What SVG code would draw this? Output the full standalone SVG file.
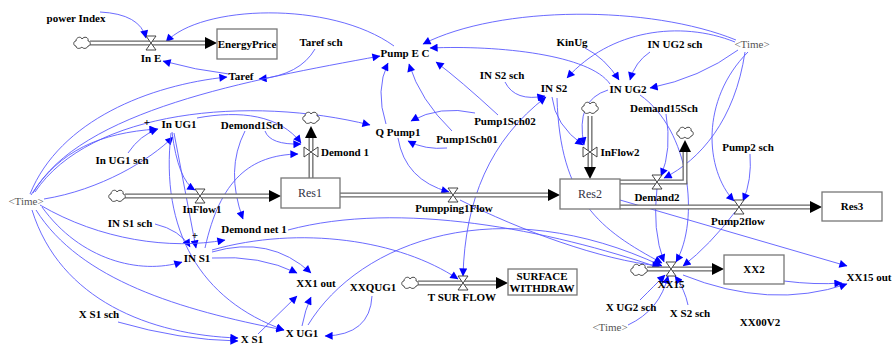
<svg xmlns="http://www.w3.org/2000/svg" width="893" height="345" viewBox="0 0 893 345">
<defs>
<style>
text{font-family:"Liberation Serif","Times New Roman",serif;font-size:11px;font-weight:bold;fill:#000;text-anchor:middle}
.sh{font-weight:normal;fill:#555}
.st{font-weight:normal;fill:#334;font-size:12px}
.box{fill:#fff;stroke:#777;stroke-width:1.3}
.po{fill:none;stroke:#666;stroke-width:5}
.pi{fill:none;stroke:#fff;stroke-width:2.4}
.c{fill:none;stroke:#5a5aff;stroke-width:0.9}
.cl{fill:#fff;stroke:#333;stroke-width:0.9}
.v{fill:#fff;stroke:#333;stroke-width:0.9}
</style>
<marker id="a" viewBox="0 0 10 10" refX="9.5" refY="5" markerWidth="11" markerHeight="8" markerUnits="userSpaceOnUse" orient="auto-start-reverse"><path d="M0,0 L10,5 L0,10 Z" fill="#0000ff"/></marker>
<path id="cloud" d="M-6,3 C-9,3 -9,-2 -6,-2 C-6,-6 -1,-7 0,-4 C2,-7 7,-6 6,-2 C9,-2 9,3 6,3 C5,6 1,6 0,4 C-2,6 -6,6 -6,3 Z"/>
<path id="vh" d="M-5,-7 L5,-7 L-5,7 L5,7 Z"/>
<path id="vv" d="M-7,-5 L-7,5 L7,-5 L7,5 Z"/>
</defs>
<rect width="893" height="345" fill="#fff"/>

<g id="connectors">
<path class="c" marker-end="url(#a)" d="M100,12 Q140,14 146,38"/>
<path class="c" marker-end="url(#a)" d="M394,46 C330,0 200,5 166,42"/>
<path class="c" marker-end="url(#a)" d="M229,74 Q195,70 163,61"/>
<path class="c" marker-end="url(#a)" d="M315,49 Q300,75 259,79"/>
<path class="c" marker-end="url(#a)" d="M30,194 C60,120 150,85 227,77"/>
<path class="c" marker-end="url(#a)" d="M33,193 C80,110 250,80 380,56"/>
<path class="c" marker-end="url(#a)" d="M736,40 C650,5 500,5 423,44"/>
<path class="c" marker-end="url(#a)" d="M735,42 C680,20 610,30 567,78"/>
<path class="c" marker-end="url(#a)" d="M610,84 C590,55 500,45 430,48"/>
<path class="c" marker-end="url(#a)" d="M585,48 Q605,58 619,80"/>
<path class="c" marker-end="url(#a)" d="M650,52 Q635,62 630,80"/>
<path class="c" marker-end="url(#a)" d="M738,50 Q700,78 650,88"/>
<path class="c" marker-end="url(#a)" d="M505,82 Q515,102 545,96"/>
<path class="c" marker-end="url(#a)" d="M552,97 Q555,125 583,145"/>
<path class="c" marker-end="url(#a)" d="M608,90 Q575,100 584,145"/>
<path class="c" marker-end="url(#a)" d="M557,98 C560,200 600,230 662,263"/>
<path class="c" marker-start="url(#a)" marker-end="url(#a)" d="M546,97 C490,140 465,200 463,276"/>
<path class="c" marker-end="url(#a)" d="M475,113 Q440,105 411,121"/>
<path class="c" marker-end="url(#a)" d="M447,148 Q425,150 408,141"/>
<path class="c" marker-end="url(#a)" d="M386,124 Q375,90 388,63"/>
<path class="c" marker-end="url(#a)" d="M452,131 Q420,100 409,64"/>
<path class="c" marker-end="url(#a)" d="M498,115 Q460,80 436,62"/>
<path class="c" marker-end="url(#a)" d="M398,138 Q405,180 449,192"/>
<path class="c" marker-end="url(#a)" d="M35,192 C90,110 250,95 370,125"/>
<path class="c" marker-end="url(#a)" d="M128,153 Q140,135 158,129"/>
<path class="c" marker-end="url(#a)" d="M31,195 C60,150 100,133 157,129"/>
<path class="c" marker-end="url(#a)" d="M44,199 C100,190 150,160 173,137"/>
<path class="c" marker-end="url(#a)" d="M172,132 Q178,180 195,190"/>
<path class="c" marker-end="url(#a)" d="M171,133 C160,230 200,300 284,330"/>
<path class="c" marker-end="url(#a)" d="M174,133 Q185,190 196,248"/>
<path class="c" marker-end="url(#a)" d="M155,224 Q180,230 190,247"/>
<path class="c" marker-end="url(#a)" d="M245,131 Q225,170 243,219"/>
<path class="c" marker-end="url(#a)" d="M265,131 Q270,145 301,144"/>
<path class="c" marker-end="url(#a)" d="M205,248 C220,180 250,155 298,154"/>
<path class="c" marker-end="url(#a)" d="M197,118 C240,110 280,115 301,143"/>
<path class="c" marker-end="url(#a)" d="M40,205 C100,240 170,250 225,240"/>
<path class="c" marker-end="url(#a)" d="M42,207 C80,260 140,275 182,262"/>
<path class="c" marker-end="url(#a)" d="M36,210 C80,280 180,310 284,330"/>
<path class="c" marker-end="url(#a)" d="M32,210 C60,300 150,335 238,338"/>
<path class="c" marker-end="url(#a)" d="M118,322 Q180,340 238,341"/>
<path class="c" marker-end="url(#a)" d="M212,258 Q260,255 297,273"/>
<path class="c" marker-end="url(#a)" d="M212,252 Q270,235 311,273"/>
<path class="c" marker-end="url(#a)" d="M212,250 C300,225 400,240 458,279"/>
<path class="c" marker-end="url(#a)" d="M258,334 L297,296"/>
<path class="c" marker-end="url(#a)" d="M302,326 Q305,310 311,297"/>
<path class="c" marker-end="url(#a)" d="M372,296 Q370,335 325,336"/>
<path class="c" marker-end="url(#a)" d="M308,325 C360,240 500,190 662,266"/>
<path class="c" marker-end="url(#a)" d="M460,200 C520,230 600,260 660,266"/>
<path class="c" marker-end="url(#a)" d="M288,230 C400,200 550,230 660,268"/>
<path class="c" marker-end="url(#a)" d="M620,200 L847,266"/>
<path class="c" marker-end="url(#a)" d="M784,281 Q815,285 842,283"/>
<path class="c" marker-end="url(#a)" d="M683,275 Q770,310 847,284"/>
<path class="c" marker-end="url(#a)" d="M666,114 Q672,150 661,176"/>
<path class="c" marker-end="url(#a)" d="M745,52 C735,120 700,160 664,178"/>
<path class="c" marker-end="url(#a)" d="M748,52 C700,100 705,170 734,201"/>
<path class="c" marker-end="url(#a)" d="M750,154 Q752,180 743,201"/>
<path class="c" marker-end="url(#a)" d="M657,188 Q652,230 664,262"/>
<path class="c" marker-end="url(#a)" d="M640,95 C690,130 700,220 676,262"/>
<path class="c" marker-end="url(#a)" d="M735,212 Q710,245 683,266"/>
<path class="c" marker-end="url(#a)" d="M640,300 Q655,285 665,275"/>
<path class="c" marker-end="url(#a)" d="M688,305 Q685,290 675,276"/>
<path class="c" marker-end="url(#a)" d="M628,325 Q660,310 668,276"/>
</g>

<g id="flow-InE">
<path class="po" d="M90,43 H207"/><path class="pi" d="M90,43 H207"/>
<path d="M205,37 L217,43 L205,49 Z" fill="#000"/>
<use href="#cloud" x="82" y="43" class="cl"/>
<use href="#vh" x="151" y="43" class="v"/>
<text x="151" y="62">In E</text>
</g>
<g id="flow-InFlow1">
<path class="po" d="M125,196 H271"/><path class="pi" d="M125,196 H271"/>
<path d="M269,190 L281,196 L269,202 Z" fill="#000"/>
<use href="#cloud" x="117" y="196" class="cl"/>
<use href="#vh" x="200" y="196" class="v"/>
<text x="202" y="213">InFlow1</text>
</g>
<g id="flow-Demond1">
<path class="po" d="M311,178 V136"/><path class="pi" d="M311,178 V136"/>
<path d="M305,138 L311,126 L317,138 Z" fill="#000"/>
<use href="#cloud" x="311" y="118" class="cl"/>
<use href="#vv" x="311" y="152" class="v"/>
<text x="345" y="156">Demond 1</text>
</g>
<g id="flow-Pumpping1Flow">
<path class="po" d="M340,195 H550"/><path class="pi" d="M340,195 H550"/>
<path d="M548,189 L560,195 L548,201 Z" fill="#000"/>
<use href="#vh" x="453" y="195" class="v"/>
<text x="454" y="212">Pumpping1Flow</text>
</g>
<g id="flow-InFlow2">
<path class="po" d="M590,116 V169"/><path class="pi" d="M590,116 V169"/>
<path d="M584,167 L590,179 L596,167 Z" fill="#000"/>
<use href="#cloud" x="590" y="108" class="cl"/>
<use href="#vv" x="590" y="152" class="v"/>
<text x="620" y="156">InFlow2</text>
</g>
<g id="flow-Demand2">
<path class="po" d="M620,182 H685 V150"/><path class="pi" d="M620,182 H685 V150"/>
<path d="M679,152 L685,140 L691,152 Z" fill="#000"/>
<use href="#cloud" x="685" y="133" class="cl"/>
<use href="#vh" x="657" y="182" class="v"/>
<text x="657" y="201">Demand2</text>
</g>
<g id="flow-Pump2flow">
<path class="po" d="M620,207 H812"/><path class="pi" d="M620,207 H812"/>
<path d="M810,201 L822,207 L810,213 Z" fill="#000"/>
<use href="#vh" x="739" y="207" class="v"/>
<text x="738" y="225">Pump2flow</text>
</g>
<g id="flow-XX15">
<path class="po" d="M647,269 H714"/><path class="pi" d="M647,269 H714"/>
<path d="M712,263 L724,269 L712,275 Z" fill="#000"/>
<use href="#cloud" x="639" y="270" class="cl"/>
<use href="#vh" x="671" y="269" class="v"/>
<text x="671" y="288">XX15</text>
</g>
<g id="flow-TSURFLOW">
<path class="po" d="M418,283 H498"/><path class="pi" d="M418,283 H498"/>
<path d="M496,277 L508,283 L496,289 Z" fill="#000"/>
<use href="#cloud" x="410" y="283" class="cl"/>
<use href="#vh" x="463" y="283" class="v"/>
<text x="462" y="301">T SUR FLOW</text>
</g>

<g id="EnergyPrice"><rect class="box" x="217" y="29" width="60" height="30"/><text x="247" y="48">EnergyPrice</text></g>
<g id="Res1"><rect class="box" x="281" y="178" width="59" height="30"/><text class="st" x="310" y="197">Res1</text></g>
<g id="Res2"><rect class="box" x="560" y="179" width="60" height="30"/><text class="st" x="590" y="198">Res2</text></g>
<g id="Res3"><rect class="box" x="822" y="192" width="60" height="29"/><text x="852" y="210">Res3</text></g>
<g id="SURFACEWITHDRAW"><rect class="box" x="508" y="269" width="69" height="26"/><text x="542" y="280">SURFACE</text><text x="542" y="292">WITHDRAW</text></g>
<g id="XX2"><rect class="box" x="724" y="255" width="60" height="29"/><text x="754" y="273">XX2</text></g>

<g id="powerIndex"><text x="76" y="22">power Index</text></g>
<g id="TarefSch"><text x="321" y="46">Taref sch</text></g>
<g id="Taref"><text x="241" y="80">Taref</text></g>
<g id="PumpEC"><text x="405" y="57">Pump E C</text></g>
<g id="KinUg"><text x="572" y="46">KinUg</text></g>
<g id="INUG2sch"><text x="675" y="48">IN UG2 sch</text></g>
<g id="Time1"><text class="sh" x="752" y="48">&lt;Time&gt;</text></g>
<g id="INS2sch"><text x="502" y="79">IN S2 sch</text></g>
<g id="INS2"><text x="554" y="92">IN S2</text></g>
<g id="INUG2"><text x="628" y="93">IN UG2</text></g>
<g id="Demand15Sch"><text x="664" y="112">Demand15Sch</text></g>
<g id="Pump1Sch02"><text x="505" y="125">Pump1Sch02</text></g>
<g id="Pump1Sch01"><text x="467" y="143">Pump1Sch01</text></g>
<g id="QPump1"><text x="398" y="136">Q Pump1</text></g>
<g id="Pump2sch"><text x="748" y="151">Pump2 sch</text></g>
<g id="InUG1"><text x="179" y="128">In UG1</text><text x="147" y="126">+</text></g>
<g id="Demond1Sch"><text x="252" y="129">Demond1Sch</text></g>
<g id="InUG1sch"><text x="122" y="164">In UG1 sch</text></g>
<g id="Time2"><text class="sh" x="26" y="205">&lt;Time&gt;</text></g>
<g id="INS1sch"><text x="130" y="227">IN S1 sch</text></g>
<g id="DemondNet1"><text x="254" y="233">Demond net 1</text></g>
<g id="INS1"><text x="197" y="262">IN S1</text><text x="195" y="239">+</text></g>
<g id="XX1out"><text x="316" y="287">XX1 out</text></g>
<g id="XXQUG1"><text x="373" y="291">XXQUG1</text></g>
<g id="XUG1"><text x="302" y="337">X UG1</text></g>
<g id="XS1sch"><text x="99" y="318">X S1 sch</text></g>
<g id="XS1"><text x="252" y="343">X S1</text></g>
<g id="XX15out"><text x="869" y="281">XX15 out</text></g>
<g id="XUG2sch"><text x="631" y="311">X UG2 sch</text></g>
<g id="Time3"><text class="sh" x="610" y="331">&lt;Time&gt;</text></g>
<g id="XS2sch"><text x="690" y="317">X S2 sch</text></g>
<g id="XX00V2"><text x="760" y="326">XX00V2</text></g>
</svg>
